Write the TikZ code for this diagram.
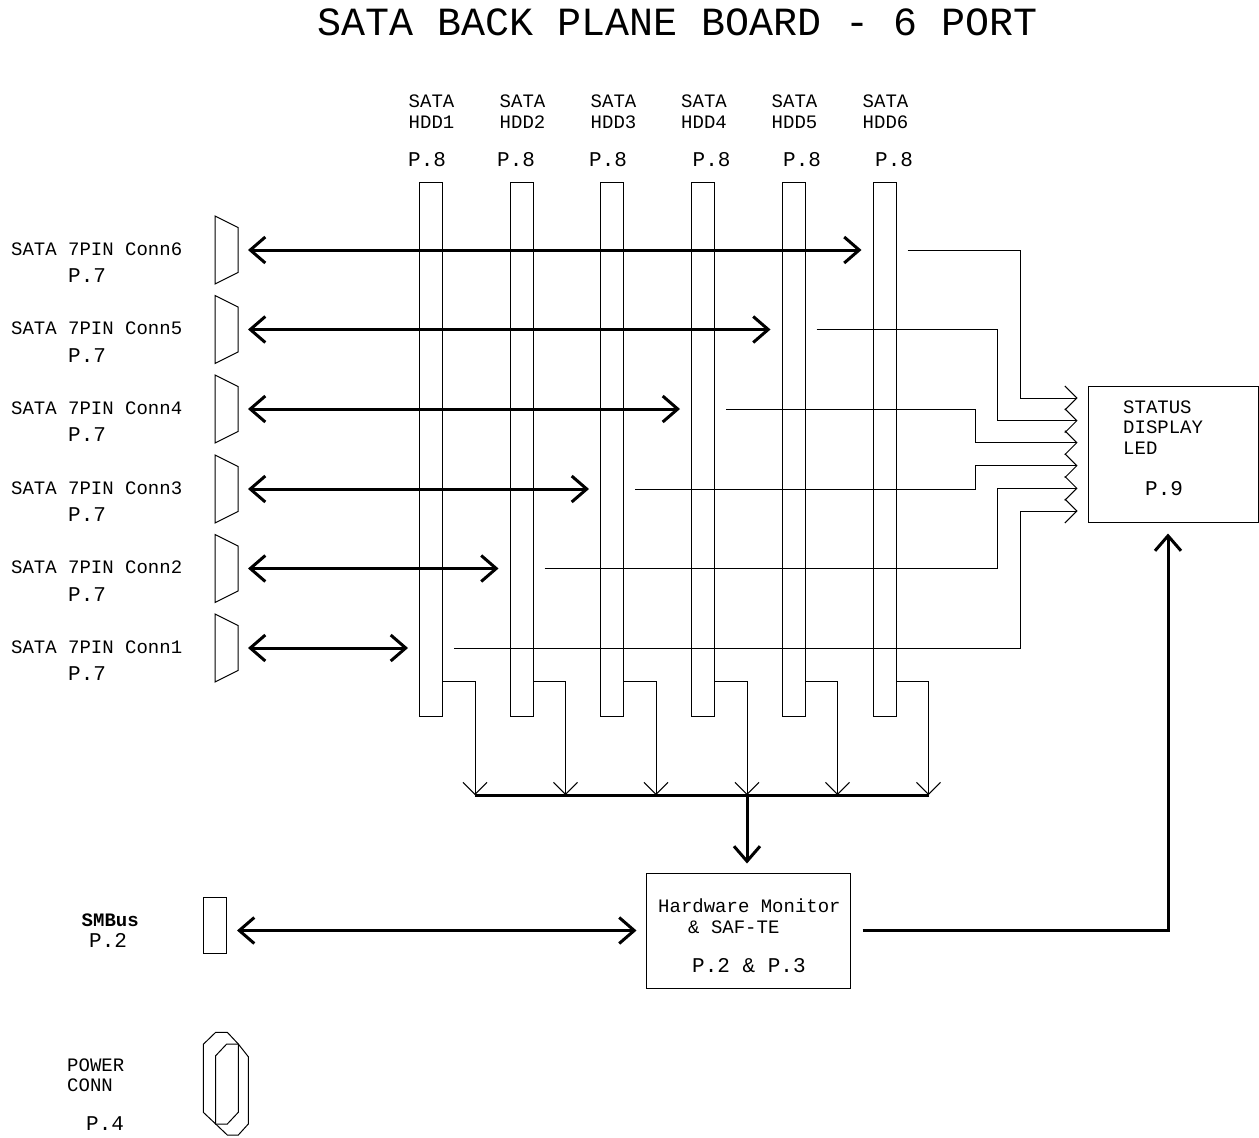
\documentclass[tikz,border=0pt]{standalone}
\usepackage{fontspec}
\setmainfont{Liberation Mono}
\usetikzlibrary{arrows.meta}
\tikzset{
    bay/.style = {
        draw,
        line width=1pt,
        minimum width=23pt,
        minimum height=534pt,
        inner sep=0pt
    },
    box/.style = {
        draw,
        line width=1pt,
        inner sep=0pt
    },
    link/.style = {
        line width=3pt,
        >={Straight Barb[length=15pt,width=26pt]}
    },
    wire/.style = {
        line width=1pt,
        >={Straight Barb[length=12pt,width=24pt]}
    },
    txt/.style = {
        inner sep=0pt,
        anchor=west,
        font=\fontsize{19}{21}\selectfont
    },
    pref/.style = {
        inner sep=0pt,
        anchor=west,
        font=\fontsize{21}{24}\selectfont
    }
}

\begin{document}
\begin{tikzpicture}[x=1pt,y=-1pt]
    \useasboundingbox (0,0) rectangle (1259,1138);

    % Title
    \node[inner sep=0pt, font=\fontsize{40}{44}\selectfont] (title) at (678,22.5) {SATA BACK PLANE BOARD - 6 PORT};

    % Draw HDD bays
    \node[bay] (hdd1) at (431,449) {};
    \node[bay] (hdd2) at (521.5,449) {};
    \node[bay] (hdd3) at (612,449) {};
    \node[bay] (hdd4) at (703,449) {};
    \node[bay] (hdd5) at (793.5,449) {};
    \node[bay] (hdd6) at (884.5,449) {};

    \node[txt] (sata1) at (408.5,101.5) {SATA};
    \node[txt] (sata2) at (499.5,101.5) {SATA};
    \node[txt] (sata3) at (590.5,101.5) {SATA};
    \node[txt] (sata4) at (681,101.5) {SATA};
    \node[txt] (sata5) at (771.5,101.5) {SATA};
    \node[txt] (sata6) at (862.5,101.5) {SATA};
    \node[txt] (name1) at (408.5,122) {HDD1};
    \node[txt] (name2) at (499.5,122) {HDD2};
    \node[txt] (name3) at (590.5,122) {HDD3};
    \node[txt] (name4) at (681,122) {HDD4};
    \node[txt] (name5) at (771.5,122) {HDD5};
    \node[txt] (name6) at (862.5,122) {HDD6};
    \node[pref] (pg1) at (408,160) {P.8};
    \node[pref] (pg2) at (497,160) {P.8};
    \node[pref] (pg3) at (589,160) {P.8};
    \node[pref] (pg4) at (692.5,160) {P.8};
    \node[pref] (pg5) at (783,160) {P.8};
    \node[pref] (pg6) at (875,160) {P.8};

    % Draw SATA connectors
    \draw[wire] (215,216) -- ++(23,11.5) -- ++(0,45) -- ++(-23,11.5) -- cycle;
    \draw[wire] (215,295.5) -- ++(23,11.5) -- ++(0,45) -- ++(-23,11.5) -- cycle;
    \draw[wire] (215,375) -- ++(23,11.5) -- ++(0,45) -- ++(-23,11.5) -- cycle;
    \draw[wire] (215,455) -- ++(23,11.5) -- ++(0,45) -- ++(-23,11.5) -- cycle;
    \draw[wire] (215,534.5) -- ++(23,11.5) -- ++(0,45) -- ++(-23,11.5) -- cycle;
    \draw[wire] (215,614) -- ++(23,11.5) -- ++(0,45) -- ++(-23,11.5) -- cycle;
    \coordinate (conn6) at (238,250);
    \coordinate (conn5) at (238,329.5);
    \coordinate (conn4) at (238,409);
    \coordinate (conn3) at (238,489);
    \coordinate (conn2) at (238,568.5);
    \coordinate (conn1) at (238,648);

    \node[txt] (lbl6) at (11,249) {SATA 7PIN Conn6};
    \node[txt] (lbl5) at (11,328.5) {SATA 7PIN Conn5};
    \node[txt] (lbl4) at (11,408) {SATA 7PIN Conn4};
    \node[txt] (lbl3) at (11,488) {SATA 7PIN Conn3};
    \node[txt] (lbl2) at (11,567.5) {SATA 7PIN Conn2};
    \node[txt] (lbl1) at (11,647) {SATA 7PIN Conn1};
    \node[pref] (pc6) at (68,276) {P.7};
    \node[pref] (pc5) at (68,355.5) {P.7};
    \node[pref] (pc4) at (68,435) {P.7};
    \node[pref] (pc3) at (68,515) {P.7};
    \node[pref] (pc2) at (68,594.5) {P.7};
    \node[pref] (pc1) at (68,674) {P.7};

    % Draw boxes
    \node[box, minimum width=170pt, minimum height=136pt] (led) at (1173,454) {};
    \node[txt] (st1) at (1123,407) {STATUS};
    \node[txt] (st2) at (1123,427.5) {DISPLAY};
    \node[txt] (st3) at (1123,448) {LED};
    \node[pref] (st4) at (1145,489) {P.9};

    \node[box, minimum width=204pt, minimum height=115pt] (hw) at (748,930.5) {};
    \node[txt] (hw1) at (658,906) {Hardware Monitor};
    \node[txt] (hw2) at (688,927) {\& SAF-TE};
    \node[pref] (hw3) at (692,966) {P.2 \& P.3};

    \node[box, minimum width=23pt, minimum height=56pt] (smbus) at (215,925) {};
    \node[txt, font=\fontsize{19}{21}\selectfont\bfseries] (sm1) at (81.5,920.5) {SMBus};
    \node[pref] (sm2) at (89,940) {P.2};

    % Power connector
    \draw[wire] (215.7,1032.3) -- (227.3,1032.3) -- (238.3,1044) -- (238.3,1112.3)
        -- (227.3,1124) -- (215.7,1124) -- (203.3,1112.3) -- (203.3,1044.3) -- cycle;
    \draw[wire] (226.7,1044) -- (238.3,1044) -- (248.3,1056.7) -- (248.3,1124)
        -- (238.3,1135) -- (227.3,1135) -- (215.7,1124) -- (215.7,1055.7) -- cycle;
    \node[txt] (pw1) at (67,1065) {POWER};
    \node[txt] (pw2) at (67,1085) {CONN};
    \node[pref] (pw3) at (86,1124) {P.4};

    % Draw arrows
    \draw[link,<->,shorten <=10pt,shorten >=11pt] (conn6) -- (hdd6.west |- conn6);
    \draw[link,<->,shorten <=10pt,shorten >=11pt] (conn5) -- (hdd5.west |- conn5);
    \draw[link,<->,shorten <=10pt,shorten >=11pt] (conn4) -- (hdd4.west |- conn4);
    \draw[link,<->,shorten <=10pt,shorten >=11pt] (conn3) -- (hdd3.west |- conn3);
    \draw[link,<->,shorten <=10pt,shorten >=11pt] (conn2) -- (hdd2.west |- conn2);
    \draw[link,<->,shorten <=10pt,shorten >=11pt] (conn1) -- (hdd1.west |- conn1);

    % Status lines
    \coordinate (b6) at (1020.5,398);
    \coordinate (b5) at (997.5,420.7);
    \coordinate (b4) at (975,442.7);
    \coordinate (b3) at (975,465.7);
    \coordinate (b2) at (997.5,488.3);
    \coordinate (b1) at (1020.5,511);
    \draw[wire,->,shorten >=10pt] ([xshift=11pt]hdd6.east |- conn6) -| (b6) -- (b6 -| led.west);
    \draw[wire,->,shorten >=10pt] ([xshift=11pt]hdd5.east |- conn5) -| (b5) -- (b5 -| led.west);
    \draw[wire,->,shorten >=10pt] ([xshift=11pt]hdd4.east |- conn4) -| (b4) -- (b4 -| led.west);
    \draw[wire,->,shorten >=10pt] ([xshift=11pt]hdd3.east |- conn3) -| (b3) -- (b3 -| led.west);
    \draw[wire,->,shorten >=10pt] ([xshift=11pt]hdd2.east |- conn2) -| (b2) -- (b2 -| led.west);
    \draw[wire,->,shorten >=10pt] ([xshift=11pt]hdd1.east |- conn1) -| (b1) -- (b1 -| led.west);

    % Monitor bus
    \coordinate (tap) at (0,681);
    \coordinate (drop1) at (475,795);
    \coordinate (drop2) at (565.5,795);
    \coordinate (drop3) at (656,795);
    \coordinate (drop4) at (747,795);
    \coordinate (drop5) at (837.5,795);
    \coordinate (drop6) at (928.5,795);
    \draw[wire,->] (hdd1.east |- tap) -| (drop1);
    \draw[wire,->] (hdd2.east |- tap) -| (drop2);
    \draw[wire,->] (hdd3.east |- tap) -| (drop3);
    \draw[wire,->] (hdd4.east |- tap) -| (drop4);
    \draw[wire,->] (hdd5.east |- tap) -| (drop5);
    \draw[wire,->] (hdd6.east |- tap) -| (drop6);
    \draw[link] (drop1) -- (drop6);
    \draw[link,->,shorten >=9pt] (drop4) -- (drop4 |- hw.north);

    \draw[link,<->,shorten <=10pt,shorten >=9pt] (smbus.east |- hw.west) -- (hw.west);
    \draw[link,->,shorten >=11pt] ([xshift=12pt]hw.east) -| ([xshift=-5pt]led.south);
\end{tikzpicture}
\end{document}
